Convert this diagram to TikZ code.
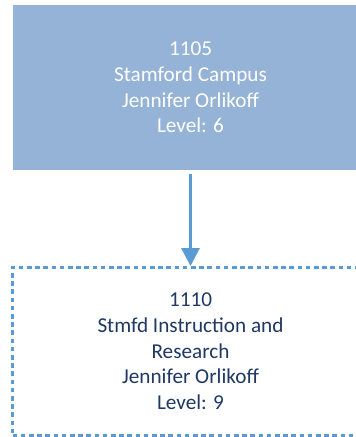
\documentclass[tikz,border=0pt]{standalone}
\usepackage{fontspec}
\setmainfont{Carlito}
\usetikzlibrary{arrows.meta}
\definecolor{boxfill}{HTML}{95B3D7}
\definecolor{lineblue}{HTML}{5B9BD5}
\definecolor{navy}{HTML}{1F3864}
\tikzset{
  unitbox/.style={rectangle, minimum width=356pt, align=center, inner sep=0pt,
    font=\fontsize{21.2pt}{25.6pt}\selectfont},
  filledbox/.style={unitbox, fill=boxfill, text=white, minimum height=165pt},
  dashbox/.style={unitbox, draw=lineblue, line width=2.5pt, dash pattern=on 4.6pt off 3.6pt, text=navy, minimum height=168pt},
  conn/.style={draw=lineblue, line width=2.8pt, -{Triangle[width=18pt,length=18pt]}, shorten <=4pt}
}
\begin{document}
\begin{tikzpicture}[x=1pt,y=1pt]
\useasboundingbox (0,0) rectangle (356,-437);
\node[filledbox] (top) at (190.5,-87.5) {1105\\Stamford Campus\\Jennifer Orlikoff\\Level: 6};
\node[dashbox] (bot) at (190.5,-351.3) {1110\\Stmfd Instruction and\\Research\\Jennifer Orlikoff\\Level: 9};
\draw[conn] (top.south) -- (bot.north);
\end{tikzpicture}
\end{document}
